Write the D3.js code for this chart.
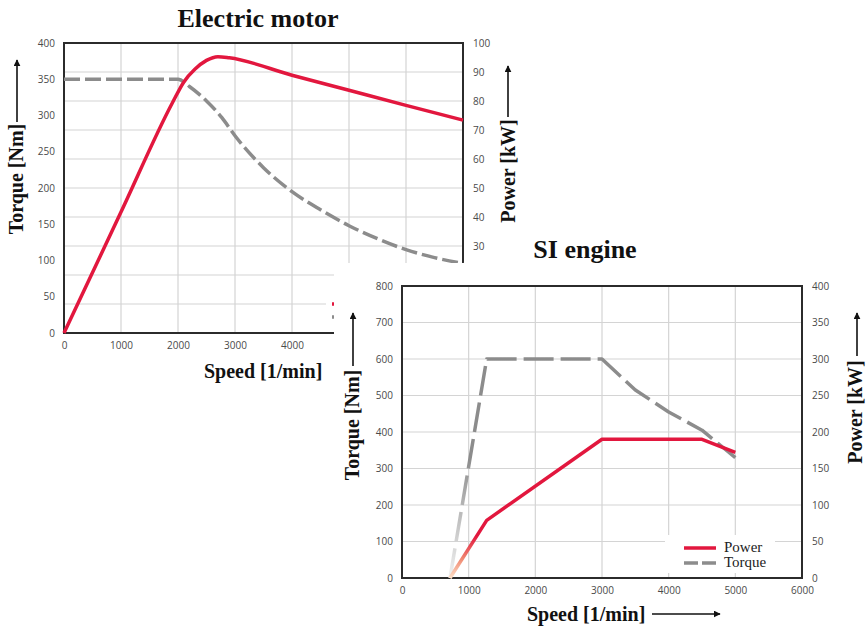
<!DOCTYPE html>
<html>
<head>
<meta charset="utf-8">
<script src="https://cdn.jsdelivr.net/npm/d3@7"></script>
<style>
	body { margin: 0; background: #fff; }
	.tick text { font-family: "Open Sans", sans-serif; font-size: 10px; fill: #4a4a4a; }
	.axis-label { font-family: "Liberation Serif", serif; font-weight: bold; font-size: 20px; fill: #111; }
	.title { font-family: "Liberation Serif", serif; font-weight: bold; font-size: 26px; fill: #111; }
	.legend-text { font-family: "Liberation Serif", serif; font-size: 15px; fill: #222; }
</style>
</head>
<body>
<svg id="chart" width="868" height="630"></svg>
<script>
//Electric motor data (speed in 1/min, torque in Nm, power in kW)
var emTorqueSpeed = [0, 2000, 2200, 2500, 2770, 3000, 3500, 4000, 4500, 5000, 5500, 6000, 6500, 7000];
var emTorque = [350, 350, 340, 320, 297, 272, 228, 195, 170, 148, 130, 115, 104, 96];
var emPowerSpeed = [0, 1000, 1900, 2100, 2300, 2500, 2700, 2900, 4000, 5000, 6000, 7000];
var emPower = [0, 41.7, 79.3, 86.5, 91, 94, 95.3, 94.9, 88.9, 83.7, 78.5, 73.4];

//SI engine data
var siTorqueSpeed = [720, 1270, 3000, 3500, 4000, 4500, 5000];
var siTorque = [0, 600, 600, 515, 455, 405, 330];
var siPowerSpeed = [720, 1270, 3000, 4500, 5000];
var siPower = [0, 79, 190, 190, 172];

//Ticks
var emSpeedTicks = [0, 1000, 2000, 3000, 4000];
var emSpeedGrid = [1000, 2000, 3000, 4000, 5000, 6000];
var emTorqueTicks = [0, 50, 100, 150, 200, 250, 300, 350, 400];
var emPowerTicks = [30, 40, 50, 60, 70, 80, 90, 100];
var emPowerGrid = [10, 20, 30, 40, 50, 60, 70, 80, 90];
var siSpeedTicks = [0, 1000, 2000, 3000, 4000, 5000, 6000];
var siTorqueTicks = [0, 100, 200, 300, 400, 500, 600, 700, 800];
var siPowerTicks = [0, 50, 100, 150, 200, 250, 300, 350, 400];

var red = "#e2173e", grey = "#8c8c8c";

var svg = d3.select("#chart");
var defs = svg.append("defs");

defs.append("marker")
	.attr("id", "arrow")
	.attr("viewBox", "0 0 10 10")
	.attr("refX", 9).attr("refY", 5)
	.attr("markerWidth", 7).attr("markerHeight", 7)
	.attr("markerUnits", "userSpaceOnUse")
	.attr("orient", "auto")
	.append("path")
	.attr("d", "M0,0L10,5L0,10z")
	.attr("fill", "#111");

function makeScales(p){
	return {
		x: d3.scaleLinear().domain(p.xDomain).range([p.left, p.right]),
		yT: d3.scaleLinear().domain(p.torqueDomain).range([p.bottom, p.top]),
		yP: d3.scaleLinear().domain(p.powerDomain).range([p.bottom, p.top])
	};
}

function drawGrid(g, p, s, xGrid, yGrid, yScale){
	g.append("g").selectAll("line").data(xGrid).enter().append("line")
		.attr("x1", function(d){ return s.x(d); })
		.attr("x2", function(d){ return s.x(d); })
		.attr("y1", p.top).attr("y2", p.bottom)
		.attr("stroke", "#d4d4d4").attr("stroke-width", 1.2);
	g.append("g").selectAll("line").data(yGrid).enter().append("line")
		.attr("x1", p.left).attr("x2", p.right)
		.attr("y1", function(d){ return yScale(d); })
		.attr("y2", function(d){ return yScale(d); })
		.attr("stroke", "#d4d4d4").attr("stroke-width", 1.2);
}

function drawAxes(g, p, s, xTicks, tTicks, pTicks){
	g.append("g")
		.attr("transform", "translate(0," + p.bottom + ")")
		.call(d3.axisBottom(s.x).tickValues(xTicks).tickSize(0).tickPadding(9).tickFormat(d3.format("d")))
		.call(function(a){ a.select(".domain").remove(); });
	g.append("g")
		.attr("transform", "translate(" + p.left + ",0)")
		.call(d3.axisLeft(s.yT).tickValues(tTicks).tickSize(0).tickPadding(9))
		.call(function(a){ a.select(".domain").remove(); });
	g.append("g")
		.attr("transform", "translate(" + p.right + ",0)")
		.call(d3.axisRight(s.yP).tickValues(pTicks).tickSize(0).tickPadding(10))
		.call(function(a){ a.select(".domain").remove(); });
	g.append("rect")
		.attr("x", p.left).attr("y", p.top)
		.attr("width", p.right - p.left).attr("height", p.bottom - p.top)
		.attr("fill", "none").attr("stroke", "#2b2b2b").attr("stroke-width", 2);
}

function drawSeries(g, xs, ys, xScale, yScale, stroke, dash, curve){
	var line = d3.line()
		.x(function(d){ return xScale(d[0]); })
		.y(function(d){ return yScale(d[1]); })
		.curve(curve || d3.curveLinear);
	g.append("path")
		.datum(d3.zip(xs, ys))
		.attr("d", line)
		.attr("fill", "none")
		.attr("stroke", stroke)
		.attr("stroke-width", 3.5)
		.attr("stroke-linejoin", "round")
		.attr("stroke-dasharray", dash || null);
}

//Vertical label with arrow pointing up
function vLabel(g, text, x, yMid, arrowX, arrowFrom, arrowTo){
	g.append("text")
		.attr("class", "axis-label")
		.attr("text-anchor", "middle")
		.attr("transform", "translate(" + x + "," + yMid + ")rotate(-90)")
		.text(text);
	g.append("line")
		.attr("x1", arrowX).attr("x2", arrowX)
		.attr("y1", arrowFrom).attr("y2", arrowTo)
		.attr("stroke", "#111").attr("stroke-width", 1.6)
		.attr("marker-end", "url(#arrow)");
}

function hLabel(g, text, x, y, arrowFrom, arrowTo, arrowY){
	g.append("text")
		.attr("class", "axis-label")
		.attr("x", x).attr("y", y)
		.text(text);
	g.append("line")
		.attr("x1", arrowFrom).attr("x2", arrowTo)
		.attr("y1", arrowY).attr("y2", arrowY)
		.attr("stroke", "#111").attr("stroke-width", 1.6)
		.attr("marker-end", "url(#arrow)");
}

//Electric motor panel
var em = {left: 64, right: 463, top: 43, bottom: 333,
	xDomain: [0, 7000], torqueDomain: [0, 400], powerDomain: [0, 100]};
var emS = makeScales(em);
var emG = svg.append("g").attr("class", "electric");

drawGrid(emG, em, emS, emSpeedGrid, emPowerGrid, emS.yP);

//Legend stub (mostly covered by the other panel)
emG.append("rect").attr("x", 326).attr("y", 293).attr("width", 110).attr("height", 32).attr("fill", "#fff");
emG.append("line").attr("x1", 332).attr("x2", 364).attr("y1", 304).attr("y2", 304)
	.attr("stroke", red).attr("stroke-width", 3.5);
emG.append("line").attr("x1", 332).attr("x2", 364).attr("y1", 317).attr("y2", 317)
	.attr("stroke", grey).attr("stroke-width", 3.5).attr("stroke-dasharray", "14,4");

drawAxes(emG, em, emS, emSpeedTicks, emTorqueTicks, emPowerTicks);
drawSeries(emG, emTorqueSpeed, emTorque, emS.x, emS.yT, grey, "16,5", d3.curveMonotoneX);
drawSeries(emG, emPowerSpeed, emPower, emS.x, emS.yP, red, null, d3.curveMonotoneX);

emG.append("text").attr("class", "title").attr("text-anchor", "middle")
	.attr("x", 258).attr("y", 27).text("Electric motor");
vLabel(emG, "Torque  [Nm]", 23, 179, 17, 122, 60);
vLabel(emG, "Power  [kW]", 515, 171, 508, 117, 66);
hLabel(emG, "Speed  [1/min]", 204, 378, 334, 400, 372);

//White sheet of the SI engine panel
svg.append("rect").attr("x", 334).attr("y", 263).attr("width", 534).attr("height", 367).attr("fill", "#fff");

//SI engine panel
var si = {left: 402, right: 802, top: 286, bottom: 578,
	xDomain: [0, 6000], torqueDomain: [0, 800], powerDomain: [0, 400]};
var siS = makeScales(si);
var siG = svg.append("g").attr("class", "si");

//Fade of both curves near zero
var redFade = defs.append("linearGradient").attr("id", "redFade")
	.attr("gradientUnits", "userSpaceOnUse")
	.attr("x1", 0).attr("x2", 0).attr("y1", si.bottom).attr("y2", si.bottom - 42);
redFade.append("stop").attr("offset", 0).attr("stop-color", "#fde0c8");
redFade.append("stop").attr("offset", 0.45).attr("stop-color", "#f08a72");
redFade.append("stop").attr("offset", 1).attr("stop-color", red);
var greyFade = defs.append("linearGradient").attr("id", "greyFade")
	.attr("gradientUnits", "userSpaceOnUse")
	.attr("x1", 0).attr("x2", 0).attr("y1", si.bottom).attr("y2", si.bottom - 120);
greyFade.append("stop").attr("offset", 0).attr("stop-color", "#f2f2f2");
greyFade.append("stop").attr("offset", 1).attr("stop-color", grey);

drawGrid(siG, si, siS, [1000, 2000, 3000, 4000, 5000], [100, 200, 300, 400, 500, 600, 700], siS.yT);

//Legend background
siG.append("rect").attr("x", 665).attr("y", 535).attr("width", 110).attr("height", 38).attr("fill", "#fff");

drawAxes(siG, si, siS, siSpeedTicks, siTorqueTicks, siPowerTicks);
drawSeries(siG, siTorqueSpeed, siTorque, siS.x, siS.yT, "url(#greyFade)", "30,7");
drawSeries(siG, siPowerSpeed, siPower, siS.x, siS.yP, "url(#redFade)", null);

//Legend
var legendItems = [
	{label: "Power", color: red, dash: null, y: 548},
	{label: "Torque", color: grey, dash: "14,4", y: 563}
];
var legend = siG.append("g").selectAll("g").data(legendItems).enter().append("g");
legend.append("line")
	.attr("x1", 684).attr("x2", 716)
	.attr("y1", function(d){ return d.y; }).attr("y2", function(d){ return d.y; })
	.attr("stroke", function(d){ return d.color; })
	.attr("stroke-width", 3.5)
	.attr("stroke-dasharray", function(d){ return d.dash; });
legend.append("text")
	.attr("class", "legend-text")
	.attr("x", 724).attr("y", function(d){ return d.y + 4; })
	.text(function(d){ return d.label; });

siG.append("text").attr("class", "title").attr("text-anchor", "middle")
	.attr("x", 585).attr("y", 258).text("SI engine");
vLabel(siG, "Torque  [Nm]", 359, 425, 353, 366, 313);
vLabel(siG, "Power  [kW]", 862, 412, 857, 356, 313);
hLabel(siG, "Speed  [1/min]", 527, 621, 652, 720, 614);
</script>
</body>
</html>
